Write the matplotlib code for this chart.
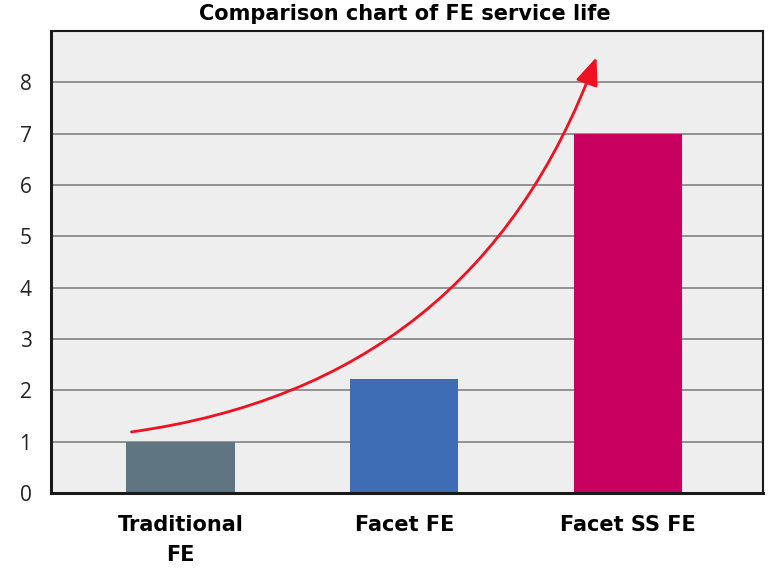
import matplotlib
matplotlib.use("Agg")
import matplotlib.pyplot as plt
from matplotlib.patches import FancyArrowPatch
from matplotlib import font_manager

categories = ["Traditional\nFE", "Facet FE", "Facet SS FE"]
service_life = [1.0, 2.22, 7.0]
bar_colors = ["#5f7682", "#3f6db5", "#c8005f"]
y_ticks = [0, 1, 2, 3, 4, 5, 6, 7, 8]
title = "Comparison chart of FE service life"

# trend arrow end points in data units
arrow_start = (-0.22, 1.19)
arrow_end = (1.86, 8.49)

names = {f.name for f in font_manager.fontManager.ttflist}
narrow = "Liberation Sans Narrow" if "Liberation Sans Narrow" in names else "DejaVu Sans"

fig = plt.figure(figsize=(7.82, 5.76), dpi=100)
ax = fig.add_axes([51 / 782, 1 - 493 / 576, 712 / 782, 462 / 576])
ax.set_facecolor("#eeeeee")

x = list(range(len(categories)))
ax.bar(x, service_life, width=0.485, color=bar_colors, zorder=3)

ax.set_xlim(-0.58, 2.605)
ax.set_ylim(0, 9)
ax.set_yticks(y_ticks)
ax.set_yticklabels([str(t) for t in y_ticks], fontsize=15, family="Open Sans", color="#222222")
ax.set_xticks(x)
ax.set_xticklabels(categories, fontsize=15, family=narrow, fontweight="bold", linespacing=1.6)
ax.tick_params(axis="y", length=0, pad=14)
ax.tick_params(axis="x", length=0, pad=16)
for lab in ax.get_xticklabels():
    lab.set_verticalalignment("top")

ax.grid(axis="y", color="#8a8a8a", linewidth=1.3, zorder=1)
ax.set_axisbelow(True)

for side in ["left", "bottom"]:
    ax.spines[side].set_linewidth(2.2)
for side in ["top", "right"]:
    ax.spines[side].set_linewidth(1.5)
for sp in ax.spines.values():
    sp.set_color("#1a1a1a")
    sp.set_zorder(5)

arrow = FancyArrowPatch(arrow_start, arrow_end, connectionstyle="arc3,rad=0.3",
                        arrowstyle="-|>,head_length=17,head_width=7",
                        color="#ee1122", linewidth=2, zorder=4,
                        shrinkA=0, shrinkB=0)
ax.add_patch(arrow)

fig.text(405 / 782, 1 - 14 / 576, title, ha="center", va="center",
         fontsize=15, fontweight="bold", family=narrow)

fig.savefig("out.png", dpi=100)
